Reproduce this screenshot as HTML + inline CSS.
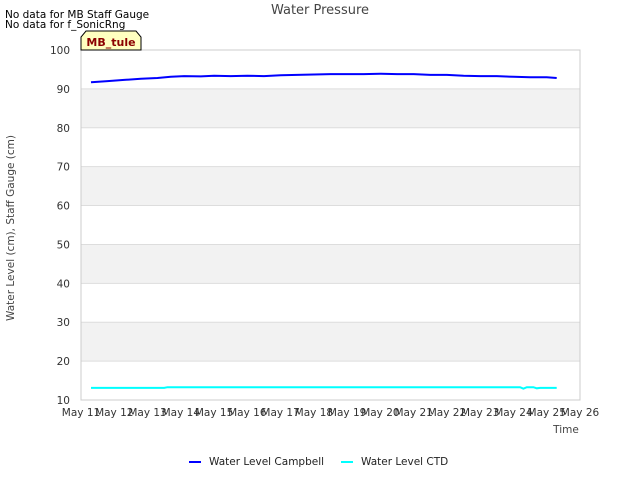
<!DOCTYPE html>
<html><head><meta charset="utf-8"><style>
body{margin:0;background:#fff;font-family:"Liberation Sans","DejaVu Sans",sans-serif}
svg text{font-family:"DejaVu Sans","Liberation Sans",sans-serif}
</style></head><body>
<svg id="chart" width="640" height="480" viewBox="0 0 640 480">
<text x="5" y="18" font-size="10.5">No data for MB Staff Gauge</text>
<text x="5" y="28" font-size="10.5">No data for f_SonicRng</text>
<text x="320" y="14" font-size="13" fill="#444" text-anchor="middle">Water Pressure</text>
<g id="bands"></g>
<g id="grid"></g>
<rect x="81" y="50" width="499" height="350" fill="none" stroke="#ccc"/>
<g id="yticks"></g><g id="xticks"></g>
<g id="series"></g>
<path d="M81,50 V37 L86,31 H136 L141,37 V50 Z" fill="#ffffc0" stroke="#000"/>
<text x="111" y="46" font-size="11" font-weight="bold" fill="#8b0000" text-anchor="middle">MB_tule</text>
<text x="14" y="228" font-size="10.5" fill="#444" text-anchor="middle" transform="rotate(-90 14 228)">Water Level (cm), Staff Gauge (cm)</text>
<text x="566" y="433" font-size="10.5" fill="#444" text-anchor="middle">Time</text>
<g>
<line x1="189" y1="462" x2="201" y2="462" stroke="#0000ff" stroke-width="2"/>
<text x="209" y="465" font-size="10.5" fill="#222">Water Level Campbell</text>
<line x1="341" y1="462" x2="353" y2="462" stroke="#00ffff" stroke-width="2"/>
<text x="361" y="465" font-size="10.5" fill="#222">Water Level CTD</text>
</g>
</svg>
<script>
const xTickLabels=["May 11","May 12","May 13","May 14","May 15","May 16","May 17","May 18","May 19","May 20","May 21","May 22","May 23","May 24","May 25","May 26"];
const yTickValues=[10,20,30,40,50,60,70,80,90,100];
const campbellDays=[11.3,11.8,12.3,12.8,13.3,13.7,14.1,14.6,15.0,15.5,16.0,16.5,17.0,17.5,18.0,18.5,19.0,19.5,20.0,20.5,21.0,21.5,22.0,22.5,23.0,23.5,24.0,24.5,25.0,25.3];
const campbellVals=[91.7,92.0,92.3,92.6,92.8,93.1,93.3,93.2,93.4,93.3,93.4,93.3,93.5,93.6,93.7,93.8,93.8,93.8,93.9,93.8,93.8,93.6,93.6,93.4,93.3,93.3,93.1,93.0,93.0,92.8];
const ctdDays=[11.3,12.0,13.0,13.5,13.6,15,17,19,21,23,24.2,24.3,24.4,24.6,24.7,24.8,25.0,25.3];
const ctdVals=[13.1,13.1,13.1,13.1,13.3,13.3,13.3,13.3,13.3,13.3,13.3,12.9,13.3,13.3,13.0,13.1,13.1,13.1];
const NS="http://www.w3.org/2000/svg";
const X0=81,X1=580,Y0=400,Y1=50;
const xs=d=>X0+(d-11)/15*(X1-X0);
const ys=v=>Y0-(v-10)/90*(Y0-Y1);
function mk(t,a,p){const e=document.createElementNS(NS,t);for(const k in a)e.setAttribute(k,a[k]);p.appendChild(e);return e;}
const bands=document.getElementById('bands'),grid=document.getElementById('grid'),yt=document.getElementById('yticks'),xt=document.getElementById('xticks'),ser=document.getElementById('series');
for(let i=0;i<yTickValues.length-1;i++){
  if(i%2===1){const r=mk('rect',{x:X0,y:ys(yTickValues[i+1]),width:X1-X0,height:ys(yTickValues[i])-ys(yTickValues[i+1]),fill:'#f2f2f2'},bands);
  
  }
}
yTickValues.forEach(v=>{
  const l=mk('line',{x1:X0,x2:X1,y1:ys(v),y2:ys(v),stroke:'#ddd'},grid);
  
  
  const t=mk('text',{x:70,y:ys(v)+4,'font-size':10.5,fill:'#333','text-anchor':'end'},yt);t.textContent=v;
  
  
});
xTickLabels.forEach((s,i)=>{
  const t=mk('text',{x:xs(11+i),y:416,'font-size':10.5,fill:'#333','text-anchor':'middle'},xt);t.textContent=s;
  
  
});
function line(days,vals,color,name){
  let d='';days.forEach((x,i)=>{d+=(i?'L':'M')+xs(x).toFixed(1)+','+ys(vals[i]).toFixed(1);});
  const p=mk('path',{d:d,fill:'none',stroke:color,'stroke-width':2},ser);
  
  
}
line(ctdDays,ctdVals,'#00ffff','series-water-level-ctd');
line(campbellDays,campbellVals,'#0000ff','series-water-level-campbell');
</script>
</body></html>
